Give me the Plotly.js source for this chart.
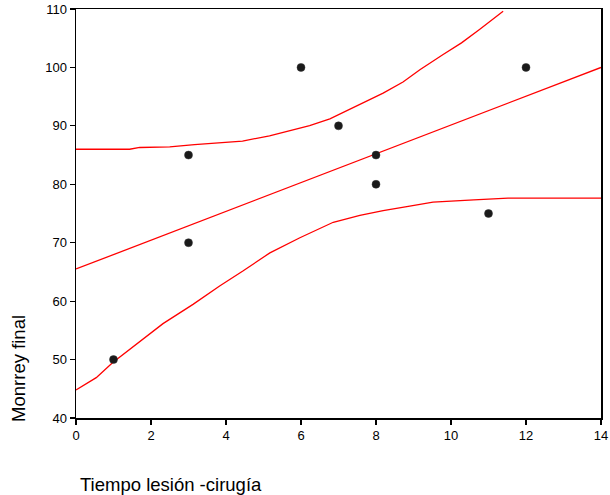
<!DOCTYPE html>
<html>
<head>
<meta charset="utf-8">
<script src="https://cdn.plot.ly/plotly-3.0.1.min.js"></script>
<style>html,body{margin:0;padding:0;background:#fff;}</style>
</head>
<body>
<div id="chart" style="width:610px;height:495px;"></div>
<script>
// Observed points
const pointX = [1, 3, 3, 6, 7, 8, 8, 11, 12];
const pointY = [50, 85, 70, 100, 90, 85, 80, 75, 100];

// Fit line
const fitX = [0, 14];
const fitY = [65.5, 100.0];

// Upper band
const upperX = [0, 1.43, 1.70, 2.5, 3.16, 3.91, 4.44, 5.16, 5.88, 6.23, 6.77, 7.21, 7.75, 8.19, 8.72, 9.17, 9.79, 10.28, 10.76, 11.35, 11.39];
const upperY = [86.0, 86.0, 86.3, 86.4, 86.8, 87.1, 87.4, 88.3, 89.4, 90.05, 91.2, 92.6, 94.2, 95.6, 97.5, 99.6, 102.2, 104.2, 106.5, 109.3, 109.6];

// Lower band
const lowerX = [0, 0.54, 0.98, 1.61, 2.32, 3.12, 3.83, 4.45, 5.17, 5.97, 6.86, 7.57, 8.19, 8.90, 9.52, 10.61, 11.52, 14];
const lowerY = [44.8, 46.9, 49.5, 52.6, 56.15, 59.45, 62.6, 65.15, 68.26, 70.85, 73.5, 74.67, 75.5, 76.26, 76.94, 77.33, 77.62, 77.62];

const xTicks = [0, 2, 4, 6, 8, 10, 12, 14];
const yTicks = [40, 50, 60, 70, 80, 90, 100, 110];

const red = '#ff0000';
const traces = [
  {x: fitX, y: fitY, mode: 'lines', line: {color: red, width: 1.3}, hoverinfo: 'skip'},
  {x: upperX, y: upperY, mode: 'lines', line: {color: red, width: 1.3}, hoverinfo: 'skip'},
  {x: lowerX, y: lowerY, mode: 'lines', line: {color: red, width: 1.3}, hoverinfo: 'skip'},
  {x: pointX, y: pointY, mode: 'markers', marker: {color: '#1a1a1a', size: 8, symbol: 'circle', line: {color: '#333', width: 0.5}}}
];

const font = 'Liberation Sans, Arial, Helvetica, sans-serif';
const layout = {
  width: 610, height: 495,
  margin: {l: 76, r: 9, t: 9, b: 77},
  paper_bgcolor: '#fff', plot_bgcolor: '#fff',
  showlegend: false,
  font: {family: font, size: 13, color: '#000'},
  xaxis: {
    range: [0, 14], tickvals: xTicks, ticktext: xTicks.map(String),
    showgrid: false, zeroline: false,
    showline: true, linecolor: '#000', linewidth: 1.5, mirror: true,
    ticks: 'outside', ticklen: 5, tickwidth: 1.2, tickcolor: '#000',
    tickfont: {family: font, size: 13, color: '#000'}
  },
  yaxis: {
    range: [40, 110], tickvals: yTicks, ticktext: yTicks.map(String),
    showgrid: false, zeroline: false,
    showline: true, linecolor: '#000', linewidth: 1.5, mirror: true,
    ticks: 'outside', ticklen: 5, tickwidth: 1.2, tickcolor: '#000',
    tickfont: {family: font, size: 13, color: '#000'}
  },
  annotations: [
    {text: 'Tiempo lesión -cirugía', xref: 'paper', yref: 'paper', x: 0.004, y: -0.162,
     xanchor: 'left', yanchor: 'middle', showarrow: false, font: {family: font, size: 18.5, color: '#000'}},
    {text: 'Monrrey final', xref: 'paper', yref: 'paper', x: -0.11, y: -0.015,
     xanchor: 'center', yanchor: 'bottom', textangle: -90, showarrow: false, font: {family: font, size: 18.5, color: '#000'}}
  ]
};

Plotly.newPlot('chart', traces, layout, {displayModeBar: false, staticPlot: true});
</script>
</body>
</html>
